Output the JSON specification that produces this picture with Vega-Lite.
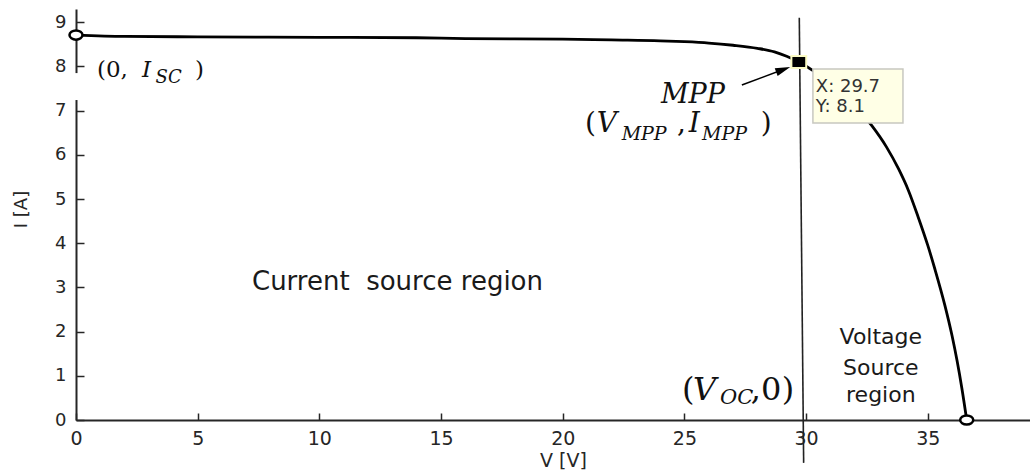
{
  "$schema": "https://vega.github.io/schema/vega-lite/v6.json",
  "width": 954,
  "height": 411,
  "autosize": {"type": "none"},
  "padding": {"left": 76, "top": 9, "right": 0, "bottom": 51},
  "background": "white",
  "config": {"view": {"stroke": null}},
  "encoding": {
    "x": {
      "field": "v", "type": "quantitative",
      "scale": {"domain": [0, 39.2], "nice": false, "zero": false},
      "axis": {
        "title": "V [V]", "values": [0, 5, 10, 15, 20, 25, 30, 35],
        "grid": false, "tickSize": -7, "labelPadding": 16,
        "labelFont": "DejaVu Sans", "labelFontSize": 19, "labelColor": "#262626",
        "labelFlush": false, "labelOverlap": false,
        "domainColor": "#262626", "domainWidth": 2, "tickColor": "#262626", "tickWidth": 1.5,
        "titleFont": "DejaVu Sans", "titleFontSize": 19, "titleFontWeight": "normal", "titleColor": "#262626",
        "titleX": 487, "titleY": 46, "titleBaseline": "alphabetic", "titleAlign": "center"
      }
    },
    "y": {
      "field": "i", "type": "quantitative",
      "scale": {"domain": [0, 9.3], "nice": false, "zero": false},
      "axis": {
        "title": "I [A]", "values": [0, 1, 2, 3, 4, 5, 6, 7, 8, 9],
        "grid": false, "tickSize": -8, "labelPadding": 18,
        "labelFont": "DejaVu Sans", "labelFontSize": 18, "labelColor": "#262626",
        "labelFlush": false, "labelOverlap": false,
        "domainColor": "#262626", "domainWidth": 2, "tickColor": "#262626", "tickWidth": 1.5,
        "titleFont": "DejaVu Sans", "titleFontSize": 18, "titleFontWeight": "normal", "titleColor": "#262626",
        "titleX": -55, "titleY": 200, "titleAngle": 270, "titleBaseline": "middle", "titleAlign": "center"
      }
    }
  },
  "layer": [
    {
      "data": {"values": [{"v": -0.35, "v2": 0.35, "i": 7.24, "i2": 7.85}]},
      "mark": {"type": "rect", "fill": "white", "clip": false},
      "encoding": {"x2": {"field": "v2"}, "y2": {"field": "i2"}}
    },
    {
      "data": {"values": [{"v": 29.72, "v2": 29.9, "i": 9.1, "i2": -0.97}]},
      "mark": {"type": "rule", "color": "#222222", "strokeWidth": 1.6, "clip": false},
      "encoding": {"x2": {"field": "v2"}, "y2": {"field": "i2"}}
    },
    {
      "data": {"values": [
        {"v": 0, "i": 8.71}, {"v": 2, "i": 8.68}, {"v": 5, "i": 8.67}, {"v": 10, "i": 8.66},
        {"v": 14, "i": 8.65}, {"v": 16, "i": 8.63}, {"v": 20, "i": 8.62}, {"v": 22, "i": 8.6},
        {"v": 24, "i": 8.58}, {"v": 25, "i": 8.56}, {"v": 26, "i": 8.53}, {"v": 27, "i": 8.48},
        {"v": 28, "i": 8.41}, {"v": 28.7, "i": 8.33}, {"v": 29.2, "i": 8.23}, {"v": 29.7, "i": 8.1},
        {"v": 30.3, "i": 7.9}, {"v": 31.0, "i": 7.62}, {"v": 31.8, "i": 7.22}, {"v": 32.7, "i": 6.66},
        {"v": 33.3, "i": 6.18}, {"v": 33.8, "i": 5.68}, {"v": 34.2, "i": 5.2}, {"v": 34.6, "i": 4.6},
        {"v": 35.0, "i": 3.95}, {"v": 35.3, "i": 3.4}, {"v": 35.7, "i": 2.6}, {"v": 36.0, "i": 1.9},
        {"v": 36.2, "i": 1.35}, {"v": 36.4, "i": 0.72}, {"v": 36.6, "i": 0}
      ]},
      "mark": {"type": "line", "color": "black", "strokeWidth": 2.8, "interpolate": "monotone", "clip": false}
    },
    {
      "data": {"values": [{"v": 0, "i": 8.71}, {"v": 36.6, "i": 0}]},
      "mark": {
        "type": "point", "shape": "M-1,0A1,0.7,0,1,1,1,0A1,0.7,0,1,1,-1,0Z",
        "size": 170, "filled": true, "fill": "white", "stroke": "black", "strokeWidth": 2.5,
        "opacity": 1, "clip": false
      }
    },
    {
      "data": {"values": [{"v": 27.36, "v2": 29.06, "i": 7.58, "i2": 7.93}]},
      "mark": {"type": "rule", "color": "black", "strokeWidth": 1.6},
      "encoding": {"x2": {"field": "v2"}, "y2": {"field": "i2"}}
    },
    {
      "data": {"values": [{"v": 29.06, "i": 7.93}]},
      "mark": {
        "type": "point", "shape": "M1,0L-1,-0.55L-1,0.55Z", "size": 225, "angle": 339.4,
        "filled": true, "fill": "black", "opacity": 1, "strokeWidth": 0
      }
    },
    {
      "data": {"values": [{"v": 30.28, "v2": 33.98, "i": 7.94, "i2": 6.72}]},
      "mark": {"type": "rect", "fill": "#ffffe6", "stroke": "#c8c8c0", "strokeWidth": 1.5},
      "encoding": {"x2": {"field": "v2"}, "y2": {"field": "i2"}}
    },
    {
      "data": {"values": [{"v": 30.4, "i": 7.42, "t": "X: 29.7"}, {"v": 30.4, "i": 6.97, "t": "Y: 8.1"}]},
      "mark": {"type": "text", "align": "left", "baseline": "alphabetic", "font": "DejaVu Sans", "fontSize": 18, "color": "#333333"},
      "encoding": {"text": {"field": "t"}}
    },
    {
      "data": {"values": [{"v": 29.7, "i": 8.1}]},
      "mark": {
        "type": "point", "shape": "M-1,-0.8H1V0.8H-1Z", "size": 220,
        "filled": true, "fill": "black", "stroke": "#fbfbc4", "strokeWidth": 2, "opacity": 1
      }
    },
    {
      "data": {"values": [{"v": 0.86, "i": 7.76, "t": "(0,"}, {"v": 4.89, "i": 7.76, "t": ")"}]},
      "mark": {"type": "text", "align": "left", "baseline": "alphabetic", "font": "DejaVu Serif", "fontSize": 23, "color": "#111111"},
      "encoding": {"text": {"field": "t"}}
    },
    {
      "data": {"values": [{"v": 2.71, "i": 7.76, "t": "I"}]},
      "mark": {"type": "text", "align": "left", "baseline": "alphabetic", "font": "DejaVu Serif", "fontStyle": "italic", "fontSize": 23, "color": "#111111"},
      "encoding": {"text": {"field": "t"}}
    },
    {
      "data": {"values": [{"v": 3.27, "i": 7.62, "t": "SC"}]},
      "mark": {"type": "text", "align": "left", "baseline": "alphabetic", "font": "DejaVu Serif", "fontStyle": "italic", "fontSize": 18, "color": "#111111"},
      "encoding": {"text": {"field": "t"}}
    },
    {
      "data": {"values": [{"v": 25.35, "i": 7.17, "t": "MPP"}]},
      "mark": {"type": "text", "align": "center", "baseline": "alphabetic", "font": "DejaVu Serif", "fontStyle": "italic", "fontSize": 27, "color": "#111111"},
      "encoding": {"text": {"field": "t"}}
    },
    {
      "data": {"values": [{"v": 20.91, "i": 6.52, "t": "("}, {"v": 24.7, "i": 6.52, "t": ","}, {"v": 28.14, "i": 6.52, "t": ")"}]},
      "mark": {"type": "text", "align": "left", "baseline": "alphabetic", "font": "DejaVu Serif", "fontSize": 28, "color": "#111111"},
      "encoding": {"text": {"field": "t"}}
    },
    {
      "data": {"values": [{"v": 21.4, "i": 6.52, "t": "V"}, {"v": 25.18, "i": 6.52, "t": "I"}]},
      "mark": {"type": "text", "align": "left", "baseline": "alphabetic", "font": "DejaVu Serif", "fontStyle": "italic", "fontSize": 28, "color": "#111111"},
      "encoding": {"text": {"field": "t"}}
    },
    {
      "data": {"values": [{"v": 22.42, "i": 6.33, "t": "MPP"}, {"v": 25.72, "i": 6.33, "t": "MPP"}]},
      "mark": {"type": "text", "align": "left", "baseline": "alphabetic", "font": "DejaVu Serif", "fontStyle": "italic", "fontSize": 19, "color": "#111111"},
      "encoding": {"text": {"field": "t"}}
    },
    {
      "data": {"values": [{"v": 24.9, "i": 0.45, "t": "("}, {"v": 27.73, "i": 0.45, "t": ",0"}, {"v": 29.0, "i": 0.45, "t": ")"}]},
      "mark": {"type": "text", "align": "left", "baseline": "alphabetic", "font": "DejaVu Serif", "fontSize": 32, "color": "#111111"},
      "encoding": {"text": {"field": "t"}}
    },
    {
      "data": {"values": [{"v": 25.35, "i": 0.45, "t": "V"}]},
      "mark": {"type": "text", "align": "left", "baseline": "alphabetic", "font": "DejaVu Serif", "fontStyle": "italic", "fontSize": 32, "color": "#111111"},
      "encoding": {"text": {"field": "t"}}
    },
    {
      "data": {"values": [{"v": 26.46, "i": 0.36, "t": "OC"}]},
      "mark": {"type": "text", "align": "left", "baseline": "alphabetic", "font": "DejaVu Serif", "fontStyle": "italic", "fontSize": 21, "color": "#111111"},
      "encoding": {"text": {"field": "t"}}
    },
    {
      "data": {"values": [{"v": 13.21, "i": 2.94, "t": "Current\u00a0 source region"}]},
      "mark": {"type": "text", "align": "center", "baseline": "alphabetic", "font": "DejaVu Sans", "fontSize": 26, "color": "#1a1a1a"},
      "encoding": {"text": {"field": "t"}}
    },
    {
      "data": {"values": [
        {"v": 33.07, "i": 1.72, "t": "Voltage"},
        {"v": 33.07, "i": 1.02, "t": "Source"},
        {"v": 33.07, "i": 0.41, "t": "region"}
      ]},
      "mark": {"type": "text", "align": "center", "baseline": "alphabetic", "font": "DejaVu Sans", "fontSize": 22, "color": "#1a1a1a"},
      "encoding": {"text": {"field": "t"}}
    }
  ]
}
